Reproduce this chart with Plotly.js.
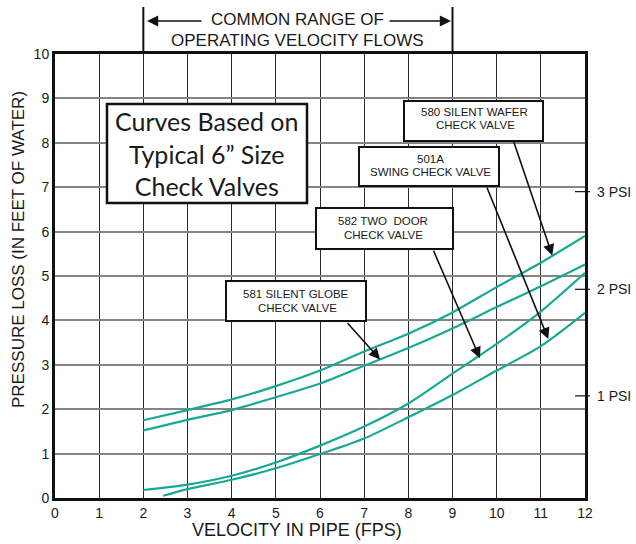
<!DOCTYPE html>
<html>
<head>
<meta charset="utf-8">
<script src="https://cdn.plot.ly/plotly-3.0.1.min.js"></script>
<style>
html,body{margin:0;padding:0;background:#fff;}
#chart{width:636px;height:544px;}
</style>
</head>
<body>
<div id="chart"></div>
<script>
// ---- data ----
var vel580 = [2, 3, 4, 5, 6, 7, 8, 9, 10, 11, 12];
var loss580 = [1.75, 1.98, 2.22, 2.52, 2.87, 3.3, 3.7, 4.18, 4.75, 5.3, 5.9];

var vel581 = [2, 3, 4, 5, 6, 7, 8, 9, 10, 11, 12];
var loss581 = [1.52, 1.76, 1.98, 2.27, 2.58, 2.98, 3.38, 3.82, 4.3, 4.77, 5.26];

var vel582 = [2, 3, 4, 5, 6, 7, 8, 9, 10, 11, 12];
var loss582 = [0.18, 0.3, 0.5, 0.8, 1.18, 1.61, 2.13, 2.8, 3.47, 4.2, 5.07];

var vel501A = [2.45, 3, 4, 5, 6, 7, 8, 9, 10, 11, 12];
var loss501A = [0.05, 0.2, 0.41, 0.67, 0.99, 1.34, 1.82, 2.32, 2.87, 3.42, 4.17];

var xTicks = [0, 1, 2, 3, 4, 5, 6, 7, 8, 9, 10, 11, 12];
var yTicks = [0, 1, 2, 3, 4, 5, 6, 7, 8, 9, 10];
var psiPositions = [2.3, 4.7, 6.9];
var psiLabels = ['1 PSI', '2 PSI', '3 PSI'];

var labels = {
  wafer: ['580 SILENT WAFER', 'CHECK VALVE'],
  swing: ['501A', 'SWING CHECK VALVE'],
  twoDoor: ['582 TWO \u00a0DOOR', 'CHECK VALVE'],
  globe: ['581 SILENT GLOBE', 'CHECK VALVE']
};
var arrowTargets = { // [velocity, loss] where each label arrow hits its curve
  wafer: [11.26, 5.46],
  swing: [11.17, 3.58],
  twoDoor: [9.62, 3.15],
  globe: [7.36, 3.12]
};
var noteLines = 'Curves Based on<br>Typical 6\u201d Size<br>Check Valves';
var rangeLines = ['COMMON RANGE OF', 'OPERATING VELOCITY FLOWS'];
var xTitle = 'VELOCITY IN PIPE (FPS)';
var yTitle = 'PRESSURE LOSS (IN FEET OF WATER)';

// ---- layout helpers (pixel -> paper) ----
var L = 55, R = 585, T = 54, B = 498;
function X(px){ return (px - L) / (R - L); }
function Y(py){ return (B - py) / (B - T); }

var teal = '#17a897';
var font = 'Liberation Sans, Arial, sans-serif';

function curve(x, y){
  return {x: x, y: y, type: 'scatter', mode: 'lines',
    line: {color: teal, width: 2.2, shape: 'spline', smoothing: 0.8},
    hoverinfo: 'skip', showlegend: false};
}
var traces = [curve(vel580, loss580), curve(vel581, loss581), curve(vel582, loss582), curve(vel501A, loss501A)];

var shapes = [];
var annotations = [];

function box(x0, y0, x1, y1, w){
  shapes.push({type: 'rect', xref: 'paper', yref: 'paper', x0: X(x0), x1: X(x1), y0: Y(y1), y1: Y(y0),
    line: {color: '#111', width: w}, fillcolor: '#fff', layer: 'above'});
}
function txt(str, cx, cy, size, fam){
  annotations.push({xref: 'paper', yref: 'paper', x: X(cx), y: Y(cy), text: str, showarrow: false,
    xanchor: 'center', yanchor: 'middle', font: {family: fam || font, size: size, color: '#1a1a1a'}});
}
function arrowTo(target, dxPx, dyPx){
  annotations.push({xref: 'x', yref: 'y', x: target[0], y: target[1], text: '', showarrow: true,
    ax: dxPx, ay: dyPx, arrowhead: 2, arrowsize: 1.4, arrowwidth: 1.6, arrowcolor: '#111'});
}

// big note box
box(107, 104, 307, 203, 2.5);
annotations.push({xref: 'paper', yref: 'paper', x: X(206), y: Y(153), text: noteLines, showarrow: false,
  xanchor: 'center', yanchor: 'middle', align: 'center',
  font: {family: 'Lato, sans-serif', size: 25, color: '#1a1a1a'}});

// valve label boxes
box(404, 101, 543, 141, 2);
txt(labels.wafer[0], 474, 112, 11.5); txt(labels.wafer[1], 475, 125.5, 11.5);
box(359, 147, 499, 186, 2);
txt(labels.swing[0], 430, 158.5, 11.5); txt(labels.swing[1], 430, 172, 11.5);
box(316, 208, 453, 249, 2);
txt(labels.twoDoor[0], 383, 221, 11.5); txt(labels.twoDoor[1], 383, 235, 11.5);
box(226, 281, 366, 321, 2);
txt(labels.globe[0], 296, 294, 11.5); txt(labels.globe[1], 297, 308, 11.5);

arrowTo(arrowTargets.wafer, -39, -115);
arrowTo(arrowTargets.swing, -62, -153);
arrowTo(arrowTargets.twoDoor, -47, -109);
arrowTo(arrowTargets.globe, -34, -38);

// common range bracket
shapes.push({type: 'line', xref: 'x', yref: 'paper', x0: 2, x1: 2, y0: Y(54), y1: Y(7), line: {color: '#111', width: 2}});
shapes.push({type: 'line', xref: 'x', yref: 'paper', x0: 9, x1: 9, y0: Y(54), y1: Y(7), line: {color: '#111', width: 2}});
annotations.push({xref: 'paper', yref: 'paper', x: X(147), y: Y(21), text: '', showarrow: true,
  ax: 56, ay: 0, arrowhead: 2, arrowsize: 1.4, arrowwidth: 1.6, arrowcolor: '#111'});
annotations.push({xref: 'paper', yref: 'paper', x: X(451), y: Y(21), text: '', showarrow: true,
  ax: -63, ay: 0, arrowhead: 2, arrowsize: 1.4, arrowwidth: 1.6, arrowcolor: '#111'});
txt(rangeLines[0], 297, 20, 17);
txt(rangeLines[1], 297, 40, 17);

// axis titles
txt(xTitle, 297, 530, 18);
annotations.push({xref: 'paper', yref: 'paper', x: X(18), y: Y(250), text: yTitle, showarrow: false,
  textangle: -90, xanchor: 'center', yanchor: 'middle', font: {family: font, size: 17, color: '#1a1a1a'}});

// PSI ticks and labels on the right edge
psiPositions.forEach(function(v, i){
  shapes.push({type: 'line', xref: 'paper', yref: 'y', x0: X(575), x1: X(590), y0: v, y1: v,
    line: {color: '#111', width: 1.2}});
  annotations.push({xref: 'paper', yref: 'y', x: X(595), y: v, text: psiLabels[i], showarrow: false,
    xanchor: 'left', yanchor: 'middle', font: {family: font, size: 14, color: '#1a1a1a'}});
});

var layout = {
  width: 636, height: 544,
  margin: {l: L, r: 636 - R, t: T, b: 544 - B, pad: 0},
  paper_bgcolor: '#fff', plot_bgcolor: '#fff',
  showlegend: false,
  xaxis: {range: [0, 12], tickvals: xTicks, ticktext: xTicks.map(String), showgrid: true,
    gridcolor: '#2a2a2a', gridwidth: 1, zeroline: false, showline: true, linecolor: '#111', linewidth: 3,
    mirror: true, ticks: '', tickfont: {family: font, size: 14, color: '#1a1a1a'}},
  yaxis: {range: [0, 10], tickvals: yTicks, ticktext: yTicks.map(String), showgrid: true,
    gridcolor: '#858585', gridwidth: 2, zeroline: false, showline: true, linecolor: '#111', linewidth: 3,
    mirror: true, ticks: '', tickfont: {family: font, size: 14, color: '#1a1a1a'}},
  shapes: shapes,
  annotations: annotations
};

Plotly.newPlot('chart', traces, layout, {displayModeBar: false});
</script>
</body>
</html>
